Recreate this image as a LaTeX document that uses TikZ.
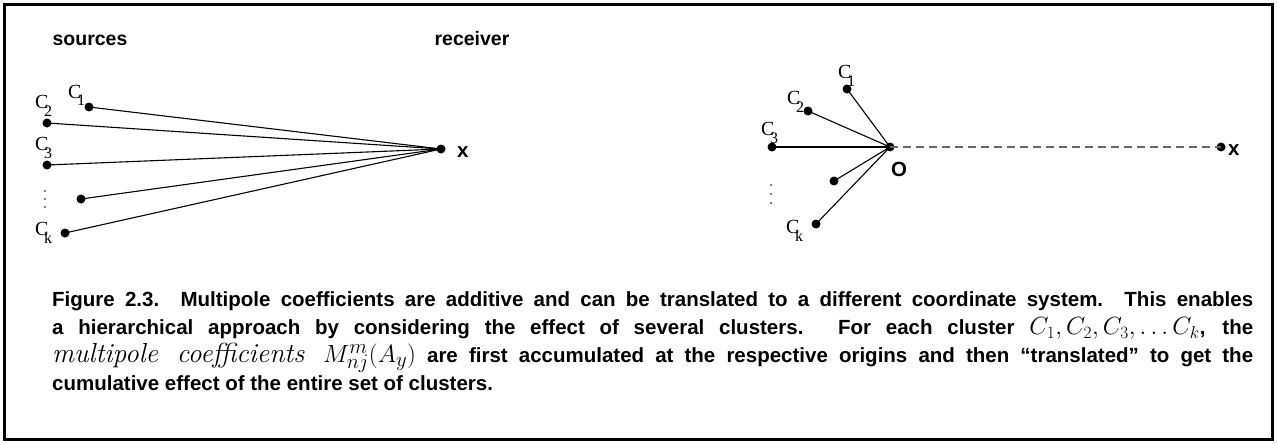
\documentclass[tikz,border=0pt]{standalone}
\usepackage[no-math]{fontspec}
\setmainfont{Liberation Sans}
\newfontfamily\timesfam{Liberation Serif}

% cluster label: upright C with its index tucked under the right side
\newcommand{\clab}[1]{{\timesfam\fontsize{20}{20}\selectfont C\kern-4.5pt\raisebox{-8pt}{\fontsize{16}{16}\selectfont #1}}}

\tikzset{
  pt/.style={circle, fill=black, inner sep=0pt, minimum size=9pt},
  tinydot/.style={circle, fill=black, inner sep=0pt, minimum size=1.8pt},
  ray/.style={line width=1.1pt, black},
  farray/.style={line width=1.3pt, gray!80!black, dash pattern=on 8pt off 5pt},
  head/.style={font=\fontsize{19.5}{19.5}\selectfont\bfseries, inner sep=0pt, anchor=base},
  lab/.style={inner sep=0pt, anchor=base west},
  bold/.style={font=\fontsize{20.5}{20.5}\selectfont\bfseries, inner sep=0pt},
}

\begin{document}
\begin{tikzpicture}[x=1pt, y=-1pt]
\useasboundingbox (0,0) rectangle (1277,444);
\draw[line width=3.6pt] (4.5,4.5) rectangle (1272.5,439.5);

% ---------- direct evaluation: every source to the receiver ----------
\node[head] (hsrc) at (90,46) {sources};
\node[head] (hrcv) at (472,46) {receiver};

\node[pt] (a1) at (89,107) {};
\node[pt] (a2) at (47,123) {};
\node[pt] (a3) at (47,165) {};
\node[pt] (a4) at (81,199) {};
\node[pt] (ak) at (65,233) {};
\node[pt] (ax) at (441,149) {};
\node[bold, anchor=west] (axl) at (457,152) {x};

\node[lab] (la1) at (68,98) {\clab{1}};
\node[lab] (la2) at (35,108) {\clab{2}};
\node[lab] (la3) at (35,150) {\clab{3}};
\node[lab] (lak) at (35,235) {\clab{k}};
\node[tinydot] (ad1) at (45,191) {};
\node[tinydot] (ad2) at (45,199) {};
\node[tinydot] (ad3) at (45,207) {};

\foreach \s in {a1,a2,a3,a4,ak} \draw[ray] (\s.center) -- (ax.center);

% ---------- clustered evaluation: sources to origin O, O to receiver ----------
\node[pt] (o) at (890,147) {};
\node[bold, anchor=north] (ol) at (899,162) {O};
\node[pt] (b1) at (847,89) {};
\node[pt] (b2) at (808,111) {};
\node[pt] (b3) at (772,147) {};
\node[pt] (b4) at (834,181) {};
\node[pt] (bk) at (816,224) {};
\node[pt] (bx) at (1221,147) {};
\node[bold, anchor=west] (bxl) at (1228,150) {x};

\node[lab] (lb1) at (838,78) {\clab{1}};
\node[lab] (lb2) at (787,104) {\clab{2}};
\node[lab] (lb3) at (761,135) {\clab{3}};
\node[lab] (lbk) at (786,233) {\clab{k}};
\node[tinydot] (bd1) at (771,185) {};
\node[tinydot] (bd2) at (771,194) {};
\node[tinydot] (bd3) at (771,203) {};

\foreach \s in {b1,b2,b3,b4,bk} \draw[ray] (\s.center) -- (o.center);
\draw[farray] (o.center) -- (bx.center);

% ---------- caption ----------
\node[anchor=north west, inner sep=0pt, text width=1201pt, align=justify,
      font=\fontsize{20.5}{28.3}\selectfont\bfseries] (cap) at (52,291)
{Figure 2.3. Multipole coefficients are additive and can be translated to a different coordinate system.  This enables\linebreak
a hierarchical approach by considering the effect of several clusters.  For each cluster {\fontsize{25}{28.3}\selectfont$C_1, C_2, C_3, \ldots C_k$}, the\linebreak
{\fontsize{27.5}{28.3}\selectfont\fontfamily{lmr}\mdseries\itshape multipole coefficients {\fontsize{29}{28.3}\selectfont$M^m_{nj}(A_y)$}} are first accumulated at the respective origins and then “translated” to get the\linebreak
cumulative effect of the entire set of clusters.};
\end{tikzpicture}
\end{document}
